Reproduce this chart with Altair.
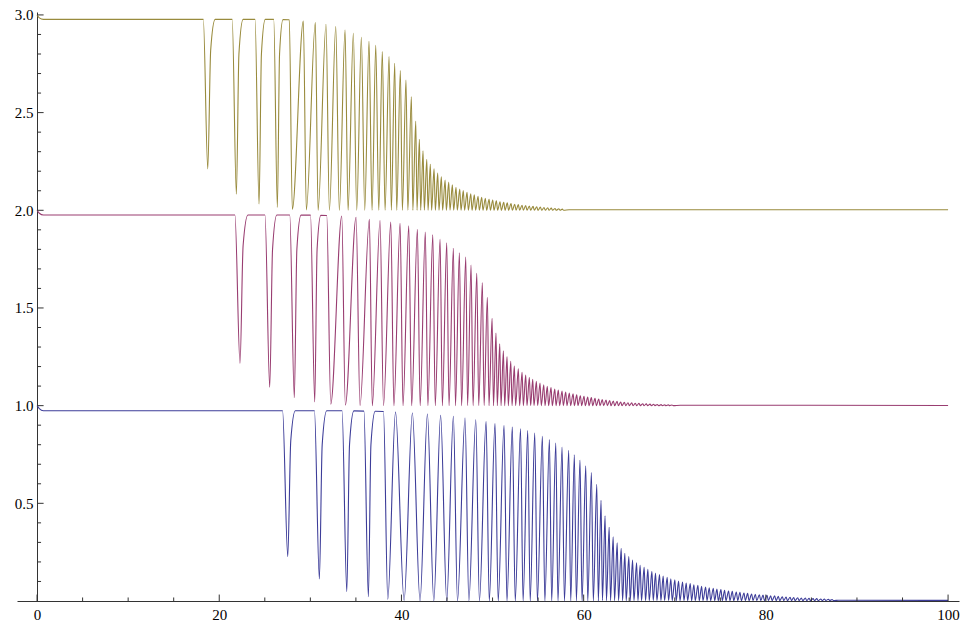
import altair as alt
import pandas as pd

# ---------------- values ----------------
# Blue curve (level 1 -> 0): explicit vertices of the first part
blue_x = [0, 0.25, 0.7,
          26.95, 27.52, 27.85, 28.35, 30.45, 30.99, 31.30, 31.80, 33.48, 34.00, 34.30, 34.78,
          35.88, 36.37, 36.65, 37.12, 38.03, 38.50, 39.35, 40.29, 41.20, 42.04,
          42.85, 43.55, 44.30, 44.97, 45.70, 46.15, 46.98, 47.40, 48.16,
          48.56, 49.29, 49.64, 50.27, 50.62, 51.26, 51.58, 52.17, 52.49,
          53.07, 53.35, 53.86, 54.13, 54.63, 54.92, 55.47, 55.74, 56.24,
          56.49, 56.94, 57.18, 57.63, 57.89, 58.36, 58.58, 58.98, 59.20,
          59.60, 59.82, 60.23, 60.45, 60.85, 61.06, 61.44, 61.61, 61.91, 62.06]
blue_y = [1.0, 0.985, 0.974,
          0.974, 0.227, 0.820, 0.974, 0.974, 0.113, 0.800, 0.974, 0.974, 0.048, 0.800, 0.973,
          0.972, 0.022, 0.800, 0.971, 0.970, 0.009, 0.967, 0.003, 0.962, 0.001,
          0.957, 0.0, 0.950, 0.0, 0.945, 0.0, 0.937, 0.0, 0.928,
          0.0, 0.918, 0.0, 0.908, 0.0, 0.898, 0.0, 0.890, 0.0,
          0.882, 0.0, 0.873, 0.0, 0.860, 0.0, 0.843, 0.0, 0.826,
          0.0, 0.809, 0.0, 0.788, 0.0, 0.771, 0.0, 0.749, 0.0,
          0.721, 0.0, 0.692, 0.0, 0.658, 0.0, 0.597, 0.0, 0.515, 0.002]
blue_tail_peak_x = [62.35, 62.80, 63.24, 63.68, 64.12, 64.52, 64.96, 65.37, 65.81, 66.20,
                    66.64, 67.05, 67.49, 67.89, 68.33, 68.73, 69.17, 69.57, 70.01, 70.42,
                    70.86, 71.26, 71.70, 72.10, 72.54, 72.95, 73.39, 73.79, 74.23, 74.63,
                    75.07, 75.47, 75.91, 76.32, 76.76, 77.16, 77.60, 78.00, 78.44, 78.85,
                    79.29, 79.69, 80.13, 80.53, 80.97, 81.37, 81.81, 82.22, 82.66, 83.06,
                    83.50, 83.90, 84.34, 84.75, 85.19, 85.59, 86.03, 86.43, 86.87, 87.27]
blue_tail_peak_y = [0.436, 0.377, 0.329, 0.298, 0.270, 0.244, 0.227, 0.210, 0.196, 0.183,
                    0.172, 0.162, 0.152, 0.143, 0.135, 0.128, 0.121, 0.114, 0.109, 0.102,
                    0.097, 0.092, 0.089, 0.083, 0.080, 0.075, 0.072, 0.068, 0.065, 0.061,
                    0.058, 0.055, 0.051, 0.050, 0.046, 0.044, 0.041, 0.039, 0.036, 0.034,
                    0.032, 0.031, 0.029, 0.027, 0.026, 0.024, 0.022, 0.020, 0.019, 0.018,
                    0.017, 0.015, 0.015, 0.014, 0.012, 0.012, 0.010, 0.010, 0.009, 0.008]
blue_tail_trough_x = [62.50, 62.95, 63.39, 63.83, 64.27, 64.67, 65.11, 65.52, 65.96, 66.35,
                      66.79, 67.20, 67.64, 68.04, 68.48, 68.88, 69.32, 69.72, 70.16, 70.57,
                      71.01, 71.41, 71.85, 72.25, 72.69, 73.10, 73.54, 73.94, 74.38, 74.78,
                      75.22, 75.62, 76.06, 76.47, 76.91, 77.31, 77.75, 78.15, 78.59, 79.00,
                      79.44, 79.84, 80.28, 80.68, 81.12, 81.52, 81.96, 82.37, 82.81, 83.21,
                      83.65, 84.05, 84.49, 84.90, 85.34, 85.74, 86.18, 86.58, 87.02, 87.42]
blue_floor = 0.002
blue_end_x = [88.0, 100.0]
blue_end_y = [0.004, 0.003]

# Magenta curve (level 2 -> 1)
magenta_x = [0, 0.25, 0.7,
             21.72, 22.28, 22.62, 23.15, 25.02, 25.54, 25.85, 26.32, 27.74, 28.24, 28.52, 28.98,
             30.02, 30.48, 30.74, 31.15, 31.80, 32.24, 33.45, 33.84, 35.02, 35.45,
             36.48, 36.80, 37.65, 38.03, 38.83, 39.17, 39.85, 40.17, 40.80,
             41.12, 41.75, 42.05, 42.62, 42.90, 43.44, 43.71, 44.24, 44.49,
             44.97, 45.22, 45.70, 45.93, 46.36, 46.60, 47.06, 47.26, 47.64,
             47.86, 48.27, 48.48, 48.88, 49.07, 49.43, 49.61, 49.95, 50.10,
             50.38, 50.52, 50.79, 50.93]
magenta_y = [2.0, 1.985, 1.976,
             1.976, 1.217, 1.820, 1.976, 1.976, 1.094, 1.800, 1.976, 1.976, 1.041, 1.800, 1.975,
             1.975, 1.019, 1.800, 1.974, 1.973, 1.008, 1.971, 1.003, 1.964, 1.001,
             1.954, 1.0, 1.947, 1.0, 1.940, 1.0, 1.934, 1.0, 1.920,
             1.0, 1.903, 1.0, 1.889, 1.0, 1.874, 1.0, 1.852, 1.0,
             1.834, 1.0, 1.806, 1.0, 1.783, 1.0, 1.760, 1.0, 1.720,
             1.0, 1.677, 1.0, 1.630, 1.0, 1.555, 1.0, 1.447, 1.0,
             1.371, 1.0, 1.316, 1.0]
magenta_tail_peak_x = [51.19, 51.59, 52.00, 52.39, 52.83, 53.24, 53.64, 54.04, 54.41, 54.81,
                       55.21, 55.62, 56.01, 56.42, 56.83, 57.22, 57.63, 58.03, 58.43, 58.84,
                       59.24, 59.64, 60.04, 60.45, 60.85, 61.25, 61.66, 62.05, 62.46, 62.86,
                       63.26, 63.67, 64.07, 64.47, 64.87, 65.28, 65.68, 66.08, 66.49, 66.88,
                       67.29, 67.69, 68.09, 68.50, 68.90, 69.30, 69.70]
magenta_tail_peak_y = [1.281, 1.251, 1.227, 1.203, 1.188, 1.171, 1.157, 1.145, 1.135, 1.125,
                       1.116, 1.107, 1.099, 1.092, 1.085, 1.080, 1.075, 1.070, 1.065, 1.060,
                       1.055, 1.051, 1.048, 1.044, 1.041, 1.037, 1.034, 1.031, 1.029, 1.026,
                       1.024, 1.022, 1.019, 1.017, 1.015, 1.014, 1.012, 1.012, 1.010, 1.009,
                       1.008, 1.007, 1.006, 1.005, 1.004, 1.004, 1.003]
magenta_tail_trough_x = [51.33, 51.73, 52.14, 52.53, 52.97, 53.38, 53.78, 54.18, 54.55, 54.95,
                         55.35, 55.76, 56.15, 56.56, 56.97, 57.36, 57.77, 58.17, 58.57, 58.98,
                         59.38, 59.78, 60.18, 60.59, 60.99, 61.39, 61.80, 62.19, 62.60, 63.00,
                         63.40, 63.81, 64.21, 64.61, 65.01, 65.42, 65.82, 66.22, 66.63, 67.02,
                         67.43, 67.83, 68.23, 68.64, 69.04, 69.44, 69.84]
magenta_floor = 1.0
magenta_end_x = [70.6, 100.0]
magenta_end_y = [1.002, 1.001]

# Gold curve (level 3 -> 2)
gold_x = [0, 0.25, 0.7,
          18.25, 18.74, 19.06, 19.55, 21.42, 21.88, 22.16, 22.62, 23.93, 24.37, 24.63, 25.05,
          25.98, 26.38, 26.62, 27.00, 27.69, 28.02, 29.23, 29.56, 30.55, 30.85,
          31.72, 32.09, 32.79, 33.18, 33.81, 34.14, 34.72, 35.09, 35.60,
          35.97, 36.44, 36.77, 37.18, 37.51, 37.90, 38.20, 38.64, 38.89,
          39.26, 39.48, 39.88, 40.10, 40.50, 40.70, 41.09, 41.25, 41.57, 41.71]
gold_y = [3.0, 2.985, 2.977,
          2.977, 2.212, 2.820, 2.977, 2.977, 2.082, 2.800, 2.977, 2.977, 2.032, 2.800, 2.977,
          2.977, 2.015, 2.800, 2.976, 2.975, 2.005, 2.969, 2.002, 2.961, 2.0,
          2.952, 2.0, 2.940, 2.0, 2.923, 2.0, 2.906, 2.0, 2.886,
          2.0, 2.865, 2.0, 2.845, 2.0, 2.812, 2.0, 2.787, 2.0,
          2.753, 2.0, 2.715, 2.0, 2.667, 2.0, 2.582, 2.0, 2.457, 2.0]
gold_tail_peak_x = [41.97, 42.37, 42.78, 43.17, 43.58, 43.98, 44.38, 44.79, 45.19, 45.59,
                    45.99, 46.40, 46.79, 47.20, 47.61, 48.00, 48.41, 48.81, 49.21, 49.62,
                    50.02, 50.42, 50.82, 51.23, 51.62, 52.03, 52.44, 52.83, 53.24, 53.64,
                    54.04, 54.45, 54.85, 55.25, 55.65, 56.06, 56.45, 56.86, 57.27, 57.66]
gold_tail_peak_y = [2.364, 2.304, 2.261, 2.236, 2.212, 2.190, 2.172, 2.155, 2.144, 2.130,
                    2.118, 2.109, 2.101, 2.092, 2.085, 2.079, 2.072, 2.067, 2.062, 2.056,
                    2.053, 2.048, 2.044, 2.041, 2.038, 2.034, 2.031, 2.029, 2.026, 2.024,
                    2.022, 2.020, 2.018, 2.016, 2.014, 2.013, 2.011, 2.009, 2.008, 2.006]
gold_tail_trough_x = [42.11, 42.51, 42.92, 43.31, 43.72, 44.12, 44.52, 44.93, 45.33, 45.73,
                      46.13, 46.54, 46.93, 47.34, 47.75, 48.14, 48.55, 48.95, 49.35, 49.76,
                      50.16, 50.56, 50.96, 51.37, 51.76, 52.17, 52.58, 52.97, 53.38, 53.78,
                      54.18, 54.59, 54.99, 55.39, 55.79, 56.20, 56.59, 57.00, 57.41, 57.80]
gold_floor = 2.0
gold_end_x = [58.4, 100.0]
gold_end_y = [2.003, 2.003]

series_names = ["blue", "magenta", "gold"]
series_colors = ["#3d3d99", "#993d71", "#998b3d"]

# tick values of the axes
x_major = [0, 20, 40, 60, 80, 100]
x_minor = [5, 10, 15, 25, 30, 35, 45, 50, 55, 65, 70, 75, 85, 90, 95]
y_major = [0.5, 1.0, 1.5, 2.0, 2.5, 3.0]
y_minor = [0.1, 0.2, 0.3, 0.4, 0.6, 0.7, 0.8, 0.9, 1.1, 1.2, 1.3, 1.4,
           1.6, 1.7, 1.8, 1.9, 2.1, 2.2, 2.3, 2.4, 2.6, 2.7, 2.8, 2.9]

# ---------------- build table ----------------
def build(name, hx, hy, px, py, tx, floor, ex, ey):
    rows = [(a, b) for a, b in zip(hx, hy)]
    for a, b, c in zip(px, py, tx):
        rows.append((a, b))
        rows.append((c, floor))
    rows += [(a, b) for a, b in zip(ex, ey)]
    return pd.DataFrame({"x": [r[0] for r in rows], "y": [r[1] for r in rows], "series": name})

df = pd.concat([
    build("blue", blue_x, blue_y, blue_tail_peak_x, blue_tail_peak_y, blue_tail_trough_x,
          blue_floor, blue_end_x, blue_end_y),
    build("magenta", magenta_x, magenta_y, magenta_tail_peak_x, magenta_tail_peak_y,
          magenta_tail_trough_x, magenta_floor, magenta_end_x, magenta_end_y),
    build("gold", gold_x, gold_y, gold_tail_peak_x, gold_tail_peak_y, gold_tail_trough_x,
          gold_floor, gold_end_x, gold_end_y),
], ignore_index=True)

X_MAJOR_LEN = 0.033   # tick length, in y units
X_MINOR_LEN = 0.018
Y_MAJOR_LEN = 0.72    # tick length, in x units
Y_MINOR_LEN = 0.44

xtick_df = pd.DataFrame({
    "x": x_major + x_minor,
    "y": [0.0] * (len(x_major) + len(x_minor)),
    "y2": [X_MAJOR_LEN] * len(x_major) + [X_MINOR_LEN] * len(x_minor),
})
ytick_df = pd.DataFrame({
    "y": y_major + y_minor,
    "x": [0.0] * (len(y_major) + len(y_minor)),
    "x2": [Y_MAJOR_LEN] * len(y_major) + [Y_MINOR_LEN] * len(y_minor),
})

AX = "#333333"
FONT = "Liberation Serif"

xscale = alt.Scale(domain=[-2.2, 101.2], nice=False, zero=False)
yscale = alt.Scale(domain=[0, 3.015], nice=False, zero=False)

xaxis = alt.Axis(values=x_major, format="d", ticks=False, tickSize=0, grid=False, title=None,
                 domainColor=AX, domainWidth=1, labelFont=FONT, labelFontSize=15,
                 labelColor="black", labelBaseline="alphabetic", labelPadding=18)
yaxis = alt.Axis(values=y_major, format=".1f", ticks=False, tickSize=0, grid=False, title=None,
                 domainColor=AX, domainWidth=1, labelFont=FONT, labelFontSize=15,
                 labelColor="black", labelPadding=4, offset=-20)

lines = alt.Chart(df).mark_line(strokeWidth=1.1, interpolate="monotone").encode(
    x=alt.X("x:Q", scale=xscale, axis=xaxis),
    y=alt.Y("y:Q", scale=yscale, axis=yaxis),
    color=alt.Color("series:N", scale=alt.Scale(domain=series_names, range=series_colors),
                    legend=None),
    detail="series:N",
)

xticks = alt.Chart(xtick_df).mark_rule(color=AX, strokeWidth=1).encode(
    x=alt.X("x:Q", scale=xscale, axis=xaxis),
    y=alt.Y("y:Q", scale=yscale, axis=yaxis),
    y2="y2:Q",
)
yticks = alt.Chart(ytick_df).mark_rule(color=AX, strokeWidth=1).encode(
    x=alt.X("x:Q", scale=xscale, axis=xaxis),
    x2="x2:Q",
    y=alt.Y("y:Q", scale=yscale, axis=yaxis),
)

chart = alt.layer(lines, xticks, yticks).properties(
    width=942, height=589,
    autosize=alt.AutoSizeParams(type="none"),
    padding={"left": 17, "top": 12, "right": 2, "bottom": 22},
    background="white",
).configure_view(stroke=None)

chart.save("out.html", embed_options={"renderer": "svg", "actions": False})
